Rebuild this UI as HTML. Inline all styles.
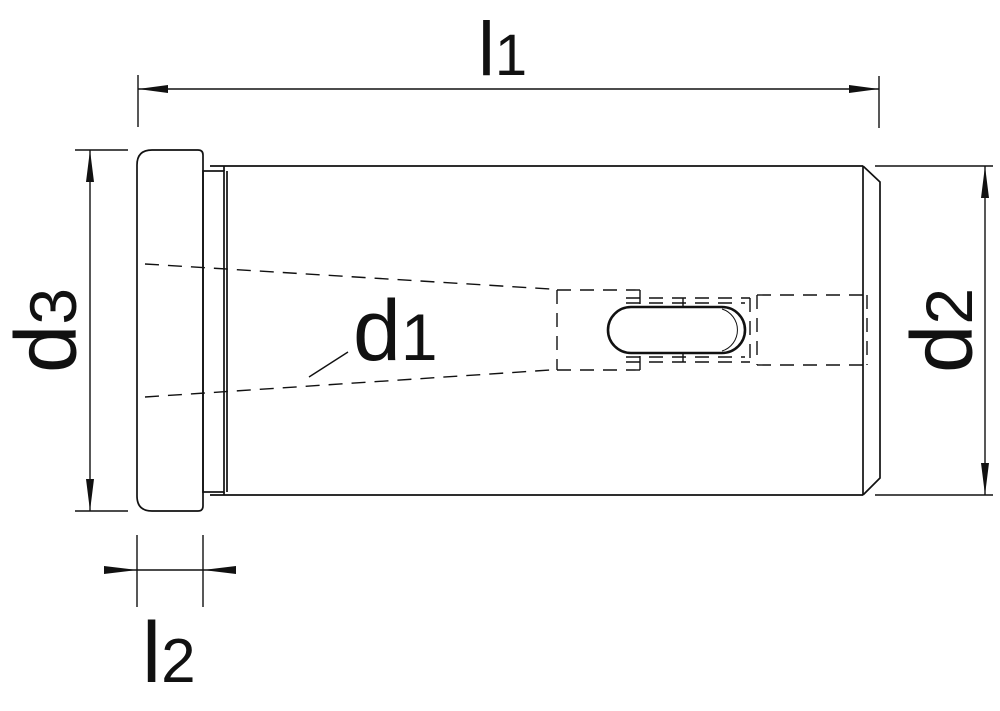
<!DOCTYPE html>
<html><head><meta charset="utf-8"><style>
html,body{margin:0;padding:0;background:#fff;width:1000px;height:711px;overflow:hidden}
svg{display:block}
text{font-family:"Liberation Sans",Arial,sans-serif;fill:#111}
</style></head><body>
<svg width="1000" height="711" viewBox="0 0 1000 711" xmlns="http://www.w3.org/2000/svg">
<g fill="none" stroke="#111" stroke-width="1.7">
  <path d="M152 150 H198 Q203 150 203 155 V506 Q203 511 198 511 H152 Q137 511 137 496 V165 Q137 150 152 150 Z"/>
  <rect x="203" y="171" width="21" height="321"/>
  <line x1="227" y1="171" x2="227" y2="492"/>
  <line x1="210" y1="166" x2="863" y2="166"/>
  <line x1="210" y1="495" x2="863" y2="495"/>
  <line x1="224" y1="166" x2="224" y2="171"/>
  <line x1="224" y1="492" x2="224" y2="495"/>
  <line x1="863" y1="166" x2="863" y2="495"/>
  <path d="M863 166 L880 182 V478 L863 495"/>
  <rect x="608" y="307" width="137" height="46" rx="23" stroke-width="2.6"/>
  <path d="M722 309 A22 22 0 0 1 722 351" stroke-width="1"/>
</g>
<g fill="none" stroke="#111" stroke-width="1.4" stroke-dasharray="14,9">
  <line x1="145" y1="264" x2="550" y2="289"/>
  <line x1="145" y1="397" x2="550" y2="370"/>
  <path d="M557 290 V370"/>
  <line x1="557" y1="290" x2="640" y2="290"/>
  <line x1="557" y1="370" x2="640" y2="370"/>
  <line x1="626" y1="298" x2="750" y2="298"/>
  <line x1="626" y1="303" x2="745" y2="303"/>
  <line x1="626" y1="357" x2="745" y2="357"/>
  <line x1="626" y1="362" x2="750" y2="362"/>
  <line x1="750" y1="298" x2="750" y2="362"/>
  <line x1="757" y1="295" x2="757" y2="365"/>
  <line x1="757" y1="295" x2="866" y2="295"/>
  <line x1="757" y1="365" x2="866" y2="365"/>
  <line x1="867" y1="295" x2="867" y2="365"/>
</g>
<g stroke="#111" stroke-width="1.4" fill="none">
  <line x1="640" y1="290" x2="640" y2="304"/>
  <line x1="640" y1="356" x2="640" y2="370"/>
  <line x1="683" y1="298" x2="683" y2="306"/>
  <line x1="683" y1="354" x2="683" y2="362"/>
  <line x1="138" y1="89" x2="879" y2="89"/>
  <line x1="138" y1="75" x2="138" y2="127"/>
  <line x1="879" y1="76" x2="879" y2="128"/>
  <line x1="90" y1="150" x2="90" y2="511"/>
  <line x1="75" y1="150" x2="128" y2="150"/>
  <line x1="75" y1="511" x2="128" y2="511"/>
  <line x1="985" y1="166" x2="985" y2="495"/>
  <line x1="875" y1="166" x2="993" y2="166"/>
  <line x1="875" y1="495" x2="993" y2="495"/>
  <line x1="104" y1="570" x2="236" y2="570"/>
  <line x1="137" y1="535" x2="137" y2="607"/>
  <line x1="203" y1="535" x2="203" y2="607"/>
  <line x1="309" y1="377" x2="348" y2="352"/>
</g>
<g fill="#111">
  <path d="M138 89 L168 85 L168 93 Z"/>
  <path d="M879 89 L849 85 L849 93 Z"/>
  <path d="M90 150 L86 182 L94 182 Z"/>
  <path d="M90 511 L86 479 L94 479 Z"/>
  <path d="M985 166 L981 198 L989 198 Z"/>
  <path d="M985 495 L981 463 L989 463 Z"/>
  <path d="M137 570 L104 566 L104 574 Z"/>
  <path d="M203 570 L236 566 L236 574 Z"/>
</g>
<text x="478" y="75" font-size="76">l<tspan font-size="58">1</tspan></text>
<text x="353" y="360" font-size="86">d<tspan font-size="66">1</tspan></text>
<text x="142" y="682" font-size="86">l<tspan font-size="62">2</tspan></text>
<text transform="translate(76,373) rotate(-90)" font-size="87">d<tspan font-size="66">3</tspan></text>
<text transform="translate(972,373) rotate(-90)" font-size="87">d<tspan font-size="66">2</tspan></text>
</svg>
</body></html>
